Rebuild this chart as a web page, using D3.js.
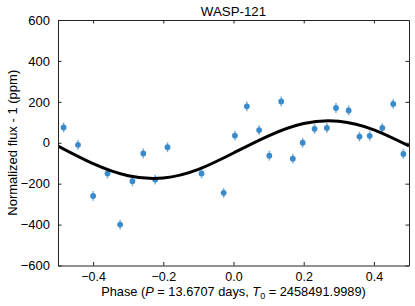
<!DOCTYPE html>
<html>
<head>
<meta charset="utf-8">
<script src="https://cdn.jsdelivr.net/npm/d3@7"></script>
<style>
  body { margin: 0; background: #fff; }
  text { font-family: "Liberation Sans", Arial, sans-serif; fill: #000; }
</style>
</head>
<body>
<script>
// binned phase-folded points
var phase = [-0.484, -0.443, -0.400, -0.359, -0.323, -0.288, -0.257, -0.223, -0.188,
  -0.091, -0.028, 0.004, 0.038, 0.073, 0.102, 0.136, 0.169, 0.197, 0.231, 0.266,
  0.292, 0.328, 0.359, 0.388, 0.424, 0.455, 0.484];
var flux = [75, -10, -260, -150, -400, -188, -52, -180, -22,
  -150, -245, 35, 178, 62, -63, 202, -78, 0, 68, 72,
  170, 158, 30, 34, 72, 190, -55];
var fluxErr = [24, 24, 24, 24, 24, 24, 24, 24, 24,
  24, 24, 24, 24, 24, 24, 24, 24, 24, 24, 24,
  24, 24, 24, 24, 24, 24, 24];

// model curve
var modelPhase = [-0.5, -0.4, -0.3, -0.2, -0.1, 0.0, 0.1, 0.2, 0.3, 0.4, 0.5];
var modelFlux = [-16, -102, -161, -172, -130, -50, 34, 94, 105, 63, -16];

var xTicks = [-0.4, -0.2, 0.0, 0.2, 0.4];
var yTicks = [-600, -400, -200, 0, 200, 400, 600];

var width = 415, height = 306;
var margin = {top: 20, right: 6, bottom: 40.5, left: 58};
var w = width - margin.left - margin.right,
    h = height - margin.top - margin.bottom;

var svg = d3.select("body").append("svg")
  .attr("width", width)
  .attr("height", height);

var g = svg.append("g")
  .attr("transform", "translate(" + margin.left + "," + margin.top + ")");

var x = d3.scaleLinear().domain([-0.5, 0.5]).range([0, w]);
var y = d3.scaleLinear().domain([-600, 600]).range([h, 0]);

// clip for curve
svg.append("defs").append("clipPath").attr("id", "clip")
  .append("rect").attr("width", w).attr("height", h);

var pts = phase.map(function(p, i) { return {p: p, f: flux[i], e: fluxErr[i]}; });

g.selectAll(".err").data(pts).enter().append("line")
  .attr("class", "err")
  .attr("x1", function(d) { return x(d.p); })
  .attr("x2", function(d) { return x(d.p); })
  .attr("y1", function(d) { return y(d.f - d.e); })
  .attr("y2", function(d) { return y(d.f + d.e); })
  .attr("stroke", "#5a9fd4")
  .attr("stroke-opacity", 0.8)
  .attr("stroke-width", 1.5);

g.selectAll(".pt").data(pts).enter().append("circle")
  .attr("class", "pt")
  .attr("cx", function(d) { return x(d.p); })
  .attr("cy", function(d) { return y(d.f); })
  .attr("r", 2.9)
  .attr("fill", "#3a8bcb");

var model = modelPhase.map(function(p, i) { return [p, modelFlux[i]]; });
var line = d3.line()
  .x(function(d) { return x(d[0]); })
  .y(function(d) { return y(d[1]); })
  .curve(d3.curveNatural);

g.append("path")
  .datum(model)
  .attr("clip-path", "url(#clip)")
  .attr("d", line)
  .attr("fill", "none")
  .attr("stroke", "#000")
  .attr("stroke-width", 3);

// axes, ticks pointing in
var fmtX = function(d) { return d3.format(".1f")(d).replace("-", "\u2212"); };
var fmtY = function(d) { return String(d).replace("-", "\u2212"); };

var xb = g.append("g").attr("transform", "translate(0," + h + ")")
  .call(d3.axisBottom(x).tickValues(xTicks).tickSizeInner(-3.5).tickSizeOuter(0).tickPadding(7).tickFormat(fmtX));
var xt = g.append("g")
  .call(d3.axisTop(x).tickValues(xTicks).tickSizeInner(-3.5).tickSizeOuter(0).tickFormat(""));
var yl = g.append("g")
  .call(d3.axisLeft(y).tickValues(yTicks).tickSizeInner(-3.5).tickSizeOuter(0).tickPadding(8).tickFormat(fmtY));
var yr = g.append("g").attr("transform", "translate(" + w + ",0)")
  .call(d3.axisRight(y).tickValues(yTicks).tickSizeInner(-3.5).tickSizeOuter(0).tickFormat(""));

[xb, xt, yl, yr].forEach(function(a) {
  a.select(".domain").attr("stroke", "#222");
  a.selectAll(".tick line").attr("stroke", "#222");
  a.selectAll("text").attr("font-size", 13).attr("font-family", "Liberation Sans, Arial, sans-serif").attr("fill", "#000");
});
xb.selectAll("text").attr("font-size", 12.5);

// labels
svg.append("text")
  .attr("x", margin.left + w / 2)
  .attr("y", 16)
  .attr("text-anchor", "middle")
  .attr("font-size", 13.3)
  .text("WASP-121");

var xlab = svg.append("text")
  .attr("x", margin.left + w / 2)
  .attr("y", 295.5)
  .attr("text-anchor", "middle")
  .attr("font-size", 12.8);
xlab.append("tspan").text("Phase (");
xlab.append("tspan").attr("font-style", "italic").text("P");
xlab.append("tspan").text(" = 13.6707 days, ");
xlab.append("tspan").attr("font-style", "italic").text("T");
xlab.append("tspan").attr("font-size", 9).attr("dy", 3).text("0");
xlab.append("tspan").attr("dy", -3).text(" = 2458491.9989)");

svg.append("text")
  .attr("transform", "translate(17," + (margin.top + h / 2) + ") rotate(-90)")
  .attr("text-anchor", "middle")
  .attr("font-size", 13)
  .text("Normalized flux - 1 (ppm)");
</script>
</body>
</html>
